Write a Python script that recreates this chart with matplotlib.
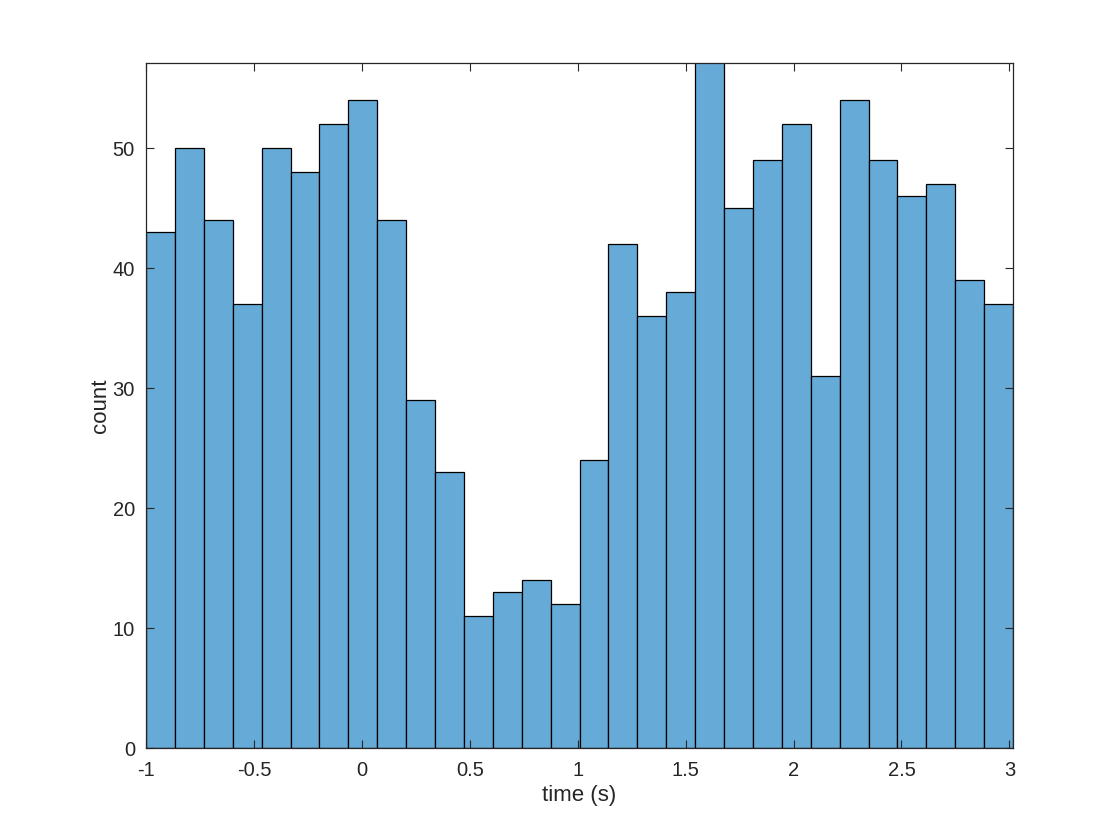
import matplotlib
matplotlib.use('Agg')
import matplotlib.pyplot as plt
import numpy as np

# histogram counts, 30 bins from -1 to ~3.017 s
bin_lo = -1.0
bin_hi = 3.017
counts = [43, 50, 44, 37, 50, 48, 52, 54, 44, 29,
          23, 11, 13, 14, 12, 24, 42, 36, 38, 57.5,
          45, 49, 52, 31, 54, 49, 46, 47, 39, 37]
x_ticks = [-1, -0.5, 0, 0.5, 1, 1.5, 2, 2.5, 3]
x_tick_labels = ['-1', '-0.5', '0', '0.5', '1', '1.5', '2', '2.5', '3']
y_ticks = [0, 10, 20, 30, 40, 50]

plt.rcParams['font.family'] = ['Liberation Sans', 'DejaVu Sans']

edges = np.linspace(bin_lo, bin_hi, len(counts) + 1)
face = (0.4, 0.668, 0.845)
axis_col = (0.15, 0.15, 0.15)

fig = plt.figure(figsize=(11.2, 8.4), dpi=100)
ax = fig.add_axes([0.1304, 0.1095, 0.7741, 0.8155])

ax.bar(edges[:-1], counts, width=np.diff(edges), align='edge',
       color=face, edgecolor='black', linewidth=0.9)

ax.set_xlim(bin_lo, bin_hi)
ax.set_ylim(0, 57.1)
ax.set_xticks(x_ticks)
ax.set_xticklabels(x_tick_labels)
ax.set_yticks(y_ticks)

ax.tick_params(direction='in', top=True, right=True, length=6,
               width=0.8, labelsize=14.5, colors=axis_col)
ax.tick_params(axis='x', pad=9)
ax.tick_params(axis='y', pad=8)
for s in ax.spines.values():
    s.set_color(axis_col)
    s.set_linewidth(0.9)

ax.set_xlabel('time (s)', fontsize=16, color=axis_col, labelpad=4)
ax.set_ylabel('count', fontsize=16, color=axis_col, labelpad=1)

fig.savefig('out.png', dpi=100)
